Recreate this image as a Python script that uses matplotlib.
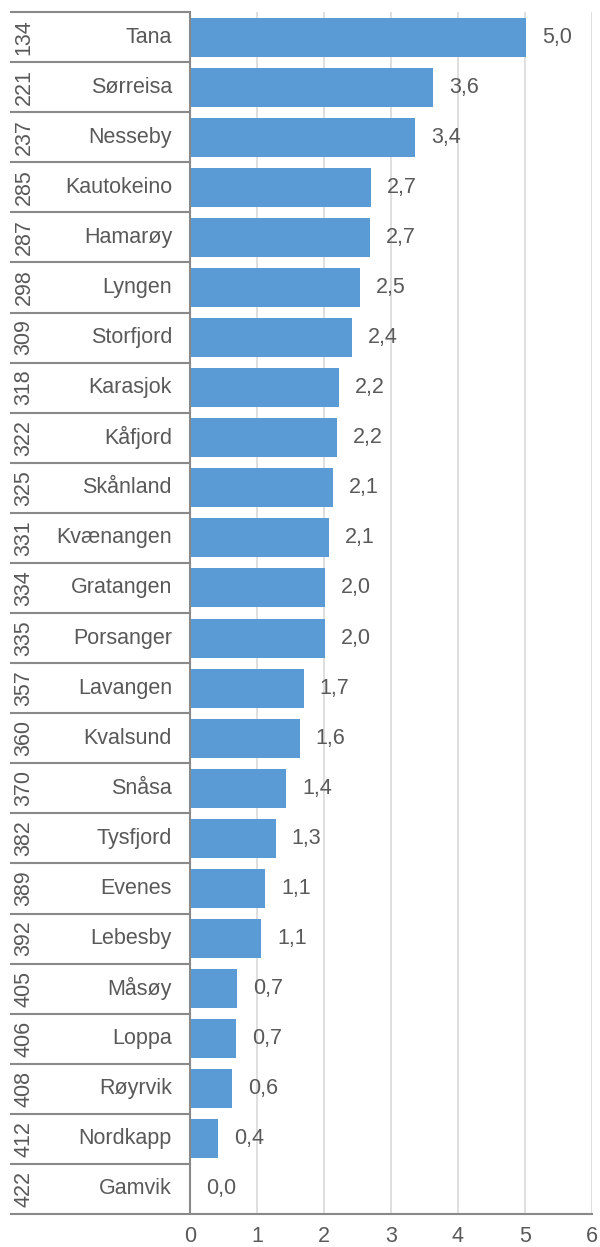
import matplotlib

matplotlib.use("Agg")
import matplotlib.pyplot as plt  # noqa: E402

plt.rcParams["font.family"] = ["Liberation Sans", "DejaVu Sans"]

ranks = ["134", "221", "237", "285", "287", "298", "309", "318", "322", "325",
         "331", "334", "335", "357", "360", "370", "382", "389", "392", "405",
         "406", "408", "412", "422"]
names = ["Tana", "Sørreisa", "Nesseby", "Kautokeino", "Hamarøy", "Lyngen",
         "Storfjord", "Karasjok", "Kåfjord", "Skånland", "Kvænangen", "Gratangen",
         "Porsanger", "Lavangen", "Kvalsund", "Snåsa", "Tysfjord", "Evenes",
         "Lebesby", "Måsøy", "Loppa", "Røyrvik", "Nordkapp", "Gamvik"]
values = [5.02, 3.63, 3.36, 2.70, 2.69, 2.54, 2.42, 2.22, 2.19, 2.14, 2.07,
          2.01, 2.01, 1.70, 1.64, 1.44, 1.28, 1.12, 1.06, 0.70, 0.69, 0.63,
          0.42, 0.0]
xticks = [0, 1, 2, 3, 4, 5, 6]

TEXT = "#595959"
LINE = "#898989"
FS = 15.5

fig = plt.figure(figsize=(6.0, 12.47), dpi=100)
ax = fig.add_axes([190 / 600, 1 - 1214 / 1247, 402 / 600, 1202 / 1247])

n = len(values)
ypos = list(range(n))
ax.barh(ypos, values, height=0.78, color="#5b9bd5", zorder=2)
ax.set_ylim(n - 0.5, -0.5)
ax.set_xlim(0, 6)

for y, v in zip(ypos, values):
    ax.annotate(f"{v:.1f}".replace(".", ","), (v, y), xytext=(11.5, 0),
                textcoords="offset points", ha="left", va="center",
                fontsize=FS, color=TEXT)

# category labels: rank (rotated) and name, with separator lines
x_left = (11 - 190) / 402
for y, r, nm in zip(ypos, ranks, names):
    ax.text((24 - 190) / 402, y, r, rotation=90, ha="center", va="center",
            fontsize=FS, color=TEXT, transform=ax.get_yaxis_transform())
    ax.text((172 - 190) / 402, y, nm, ha="right", va="center",
            fontsize=FS, color=TEXT, transform=ax.get_yaxis_transform())
for b in range(n):
    ax.plot([x_left, 0], [b - 0.5, b - 0.5], color=LINE, lw=1.5,
            transform=ax.get_yaxis_transform(), clip_on=False)
ax.plot([x_left, 1], [n - 0.5, n - 0.5], color=LINE, lw=1.5,
        transform=ax.get_yaxis_transform(), clip_on=False, zorder=3)

ax.set_yticks([])
ax.set_xticks(xticks)
ax.set_xticklabels([str(t) for t in xticks], fontsize=FS, color=TEXT)
ax.tick_params(axis="x", length=0, pad=9)
ax.grid(axis="x", color="#d9d9d9", lw=1.2, zorder=0)
ax.set_axisbelow(True)
for side in ["top", "right", "bottom"]:
    ax.spines[side].set_visible(False)
ax.spines["left"].set_color(LINE)
ax.spines["left"].set_linewidth(1.5)
ax.spines["left"].set_zorder(3)

fig.savefig("out.png", dpi=100)
